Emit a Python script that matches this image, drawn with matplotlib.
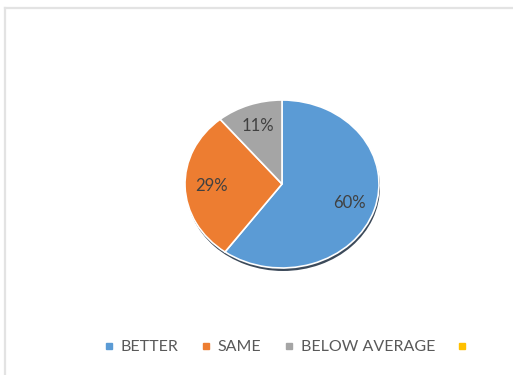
import matplotlib.pyplot as plt
from matplotlib.lines import Line2D

categories = ['BETTER', 'SAME', 'BELOW AVERAGE', '']
values = [60, 29, 11]
colors = ['#5b9bd5', '#ed7d31', '#a5a5a5', '#ffc000']

plt.rcParams['font.family'] = ['Lato', 'DejaVu Sans']

fig = plt.figure(figsize=(5.13, 3.75), dpi=100)

# light frame along top and left
fig.add_artist(Line2D([4.5 / 513, 1], [1 - 7.5 / 375, 1 - 7.5 / 375],
                      color='#e3e3e3', lw=1.6, transform=fig.transFigure))
fig.add_artist(Line2D([4.5 / 513, 4.5 / 513], [0, 1 - 7.5 / 375],
                      color='#e3e3e3', lw=1.6, transform=fig.transFigure))

# pie is slightly flattened (wider than tall)
cx, cy, w, h = 282, 184, 194, 168
rect = [(cx - w / 2) / 513, (375 - cy - h / 2) / 375, w / 513, h / 375]

# drop shadow underneath
sax = fig.add_axes([rect[0] + 1 / 513, rect[1] - 3 / 375, rect[2], rect[3]])
sax.pie([1], colors=['#3c4a5a'], radius=1.0)
sax.set_aspect('auto')
sax.set_xlim(-1, 1)
sax.set_ylim(-1, 1)
sax.axis('off')

ax = fig.add_axes(rect)
wedges, texts, autotexts = ax.pie(
    values, colors=colors[:3], startangle=90, counterclock=False,
    autopct='%1.0f%%', pctdistance=0.73,
    wedgeprops=dict(edgecolor='white', linewidth=1.2),
    textprops=dict(color='#404040', fontsize=12))
ax.set_aspect('auto')
ax.set_xlim(-1, 1)
ax.set_ylim(-1, 1)
ax.axis('off')

handles = [Line2D([], [], marker='s', linestyle='none', markersize=5,
                  markerfacecolor=c, markeredgecolor=c) for c in colors]
fig.legend(handles, categories, ncol=4, loc='center',
           bbox_to_anchor=(289 / 513, 1 - 347 / 375), frameon=False,
           handlelength=0.6, handletextpad=0.45, columnspacing=1.4,
           prop=dict(size=11.5), labelcolor='#595959')

fig.savefig('out.png', dpi=100)
